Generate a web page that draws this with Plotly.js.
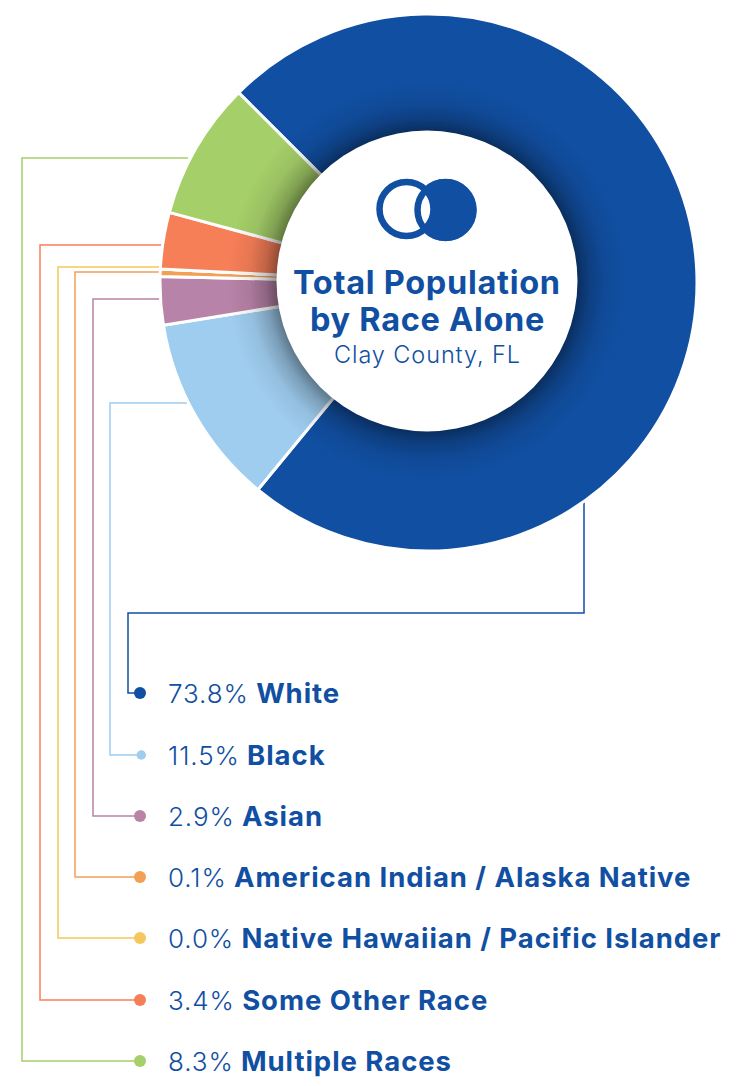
<!DOCTYPE html>
<html><head><meta charset="utf-8">
<script src="https://cdn.plot.ly/plotly-3.0.1.min.js"></script>
<style>html,body{margin:0;padding:0;background:#fff}#c{width:740px;height:1086px}</style>
</head><body><div id="c"></div>
<script>
const categories = ["White","Black","Asian","American Indian / Alaska Native","Native Hawaiian / Pacific Islander","Some Other Race","Multiple Races"];
const printedShares = ["73.8%","11.5%","2.9%","0.1%","0.0%","3.4%","8.3%"];
// slice sizes as measured in the ring (the 0.1% sliver is drawn wider than its label)
const sliceShares = [73.5,11.5,2.9,0.45,0,3.4,8.3];
const colors = ["#114fa2","#9fcdef","#b883a8","#f2a055","#f5c75c","#f77f58","#a5cf69"];
const rowY = [693,755,816,877,938,1000,1061];
const dotX = [140,141.3,140,140,140,140,140];
const dotSize = [12,9.5,12,12,12,12,12];
const textX = 166;
// connector routes: [slice-edge point, elbow(s)] ending at the dot row
const routes = [
  [[584,500],[584,613],[128,613],[128,693],[140,693]],
  [[187,403],[110,403],[110,755],[140,755]],
  [[161,299],[93,299],[93,816],[140,816]],
  [[160,272],[75,272],[75,877],[140,877]],
  [[160,267],[58,267],[58,938],[140,938]],
  [[162,245],[40,245],[40,1000],[140,1000]],
  [[188,158],[22,158],[22,1061],[140,1061]]
];
const W=740,H=1086,cx=428.5,cy=282.5,R=268.5,r=150;
const BLUE="#114fa2";
const SANS="Inter, 'Noto Sans', sans-serif";
const SR=r+50;
const shadowSvg = `<svg xmlns="http://www.w3.org/2000/svg" width="${2*SR}" height="${2*SR}" viewBox="0 0 ${2*SR} ${2*SR}"><defs><radialGradient id="g" gradientUnits="userSpaceOnUse" cx="${SR}" cy="${SR}" r="${SR}"><stop offset="0" stop-color="#000" stop-opacity=".42"/><stop offset="${r/SR}" stop-color="#000" stop-opacity=".42"/><stop offset="${(r+12)/SR}" stop-color="#000" stop-opacity=".22"/><stop offset="${(r+28)/SR}" stop-color="#000" stop-opacity=".07"/><stop offset="1" stop-color="#000" stop-opacity="0"/></radialGradient></defs><circle cx="${SR}" cy="${SR}" r="${SR}" fill="url(#g)"/></svg>`;

const traces = [
 {type:"pie",values:sliceShares,labels:categories,sort:false,direction:"clockwise",rotation:315,hole:(r-12)/R,
  marker:{colors:colors,line:{color:"#fff",width:3}},textinfo:"none",hoverinfo:"label",showlegend:false,
  domain:{x:[(cx-R)/W,(cx+R)/W],y:[1-(cy+R)/H,1-(cy-R)/H]}},
 {type:"scatter",mode:"markers",x:dotX,y:rowY,marker:{color:colors,size:dotSize,opacity:1,line:{width:0}},hoverinfo:"skip",showlegend:false}
];

const shapes = [];
routes.forEach((p,i)=>{
  shapes.push({type:"path",xref:"x",yref:"y",layer:"below",
    path:"M"+p.map(q=>q.join(",")).join(" L"),line:{color:colors[i],width:1.5}});
});
function circle(x,y,rad,fill,lineW,lineC){
  return {type:"circle",xref:"x",yref:"y",layer:"above",x0:x-rad,x1:x+rad,y0:y-rad,y1:y+rad,
    fillcolor:fill||"rgba(0,0,0,0)",line:{color:lineC||BLUE,width:lineW||0}};
}
shapes.push(circle(427,281,150.5,"#fff",0,"#fff"));
shapes.push(circle(445.5,210,31,BLUE,0));
shapes.push(circle(406.5,209,24.5,"#fff",0,"#fff"));
shapes.push(circle(445.5,210,28,null,6.5));
shapes.push(circle(406.5,209,27,null,6.5));

const sp=(t,ls,extra)=>`<span style="letter-spacing:${ls}px;${extra||""}">${t}</span>`;
const annotations = [
 {x:427,y:282,text:sp("Total Population",0.7),font:{size:32.5,color:BLUE,family:SANS,weight:700}},
 {x:427,y:319.5,text:sp("by Race Alone",0.7),font:{size:32.5,color:BLUE,family:SANS,weight:700}},
 {x:427,y:354.5,text:sp("Clay County, FL",0.9),font:{size:23.5,color:BLUE,family:SANS,weight:300}}
].map(a=>Object.assign(a,{xref:"x",yref:"y",showarrow:false,xanchor:"center",yanchor:"middle"}));
categories.forEach((c,i)=>{
  annotations.push({xref:"x",yref:"y",x:textX,y:rowY[i],showarrow:false,xanchor:"left",yanchor:"middle",
    text:sp(printedShares[i],0.9,"font-weight:300;font-size:26px")+" "+sp(c,0.95,"font-weight:700;font-size:27.5px"),
    font:{size:26,color:BLUE,family:SANS,weight:300}});
});

Plotly.newPlot("c",traces,{
  width:W,height:H,margin:{l:0,r:0,t:0,b:0},paper_bgcolor:"#fff",plot_bgcolor:"rgba(0,0,0,0)",showlegend:false,
  xaxis:{range:[0,W],visible:false,fixedrange:true},
  yaxis:{range:[H,0],visible:false,fixedrange:true},
  images:[{source:"data:image/svg+xml;base64,"+btoa(shadowSvg),xref:"x",yref:"y",x:427-SR,y:281-SR,sizex:2*SR,sizey:2*SR,
    xanchor:"left",yanchor:"top",sizing:"stretch",layer:"above"}],
  shapes:shapes,annotations:annotations
},{displayModeBar:false,staticPlot:true});
</script></body></html>
